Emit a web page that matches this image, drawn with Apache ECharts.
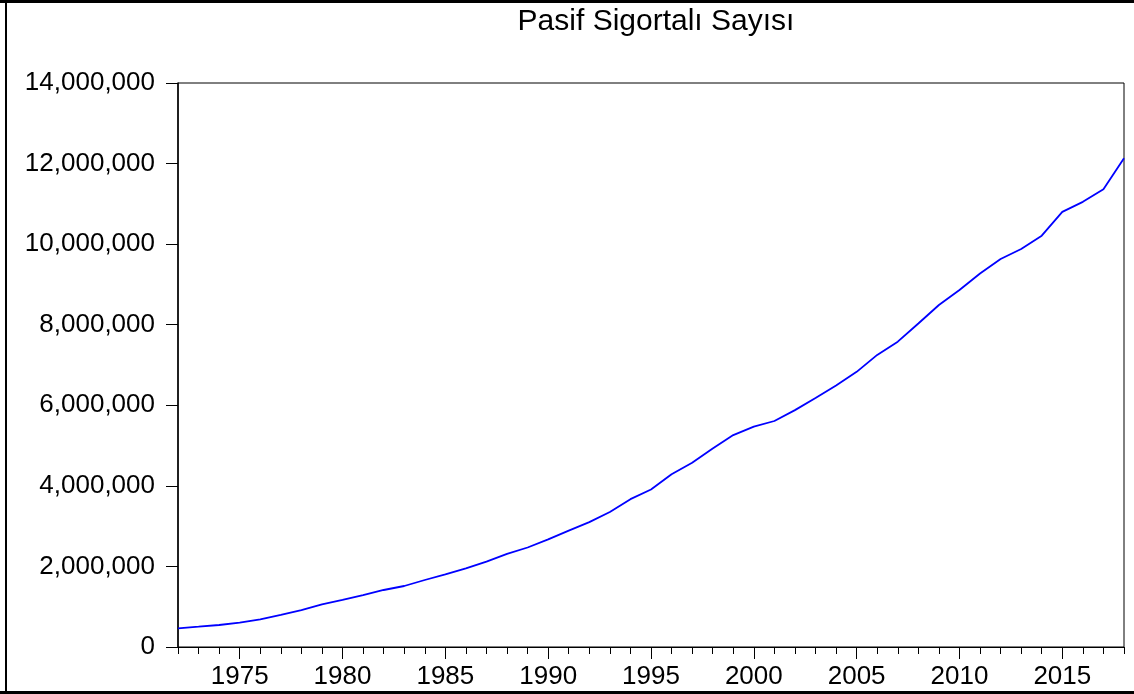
<!DOCTYPE html>
<html>
<head>
<meta charset="utf-8">
<title>Pasif Sigortalı Sayısı</title>
<script src="https://cdn.jsdelivr.net/npm/echarts@6/dist/echarts.min.js"></script>
<style>
  html, body { margin: 0; padding: 0; background: #fff; }
  #chart { width: 1134px; height: 694px; }
</style>
</head>
<body>
<div id="chart"></div>
<script>
// yıllar (kategori ekseni)
const years = [
  '1972', '1973', '1974', '1975', '1976', '1977', '1978', '1979', '1980', '1981',
  '1982', '1983', '1984', '1985', '1986', '1987', '1988', '1989', '1990', '1991',
  '1992', '1993', '1994', '1995', '1996', '1997', '1998', '1999', '2000', '2001',
  '2002', '2003', '2004', '2005', '2006', '2007', '2008', '2009', '2010', '2011',
  '2012', '2013', '2014', '2015', '2016', '2017', '2018'
];
// pasif sigortalı sayısı
const pasifSigortali = [
  464000, 504000, 546000, 603000, 687000, 800000, 918000, 1060000, 1167000, 1290000,
  1415000, 1514000, 1663000, 1800000, 1950000, 2120000, 2310000, 2470000, 2670000, 2890000,
  3100000, 3350000, 3670000, 3910000, 4290000, 4575000, 4930000, 5260000, 5470000, 5610000,
  5880000, 6180000, 6490000, 6830000, 7250000, 7580000, 8030000, 8490000, 8860000, 9270000,
  9630000, 9880000, 10210000, 10800000, 11050000, 11360000, 12130000
];
const yTicks = [0, 2000000, 4000000, 6000000, 8000000, 10000000, 12000000, 14000000];

const font = 'Liberation Sans, Arial, sans-serif';
const everyFifth = (idx, val) => Number(val) % 5 === 0;

const chart = echarts.init(document.getElementById('chart'));
const option = {
  backgroundColor: '#fff',
  animation: false,
  title: {
    text: 'Pasif Sigortalı Sayısı',
    left: 651,
    textAlign: 'center',
    top: 2,
    textStyle: { fontFamily: font, fontSize: 30, fontWeight: 'normal', color: '#000' }
  },
  graphic: [
    // dış çerçeve
    { type: 'line', shape: { x1: 0, y1: 1.5, x2: 1134, y2: 1.5 }, style: { stroke: '#000', lineWidth: 3 } },
    { type: 'line', shape: { x1: 6, y1: 0, x2: 6, y2: 694 }, style: { stroke: '#000', lineWidth: 2 } },
    { type: 'line', shape: { x1: 0, y1: 692.5, x2: 1134, y2: 692.5 }, style: { stroke: '#000', lineWidth: 3 } }
  ],
  grid: {
    left: 178,
    right: 10,
    top: 83,
    bottom: 47,
    show: true,
    borderColor: '#000',
    borderWidth: 1,
    containLabel: false
  },
  xAxis: [
    {
      type: 'category',
      data: years,
      boundaryGap: false,
      axisLine: { show: true, lineStyle: { color: '#000', width: 1 } },
      axisTick: { show: true, interval: 0, length: 7, lineStyle: { color: '#000' } },
      axisLabel: { show: false },
      splitLine: { show: false }
    },
    {
      type: 'category',
      data: years,
      boundaryGap: false,
      position: 'bottom',
      axisLine: { show: false },
      axisTick: { show: true, interval: everyFifth, length: 12, lineStyle: { color: '#000' } },
      axisLabel: {
        show: true,
        interval: everyFifth,
        margin: 17,
        color: '#000',
        fontFamily: font,
        fontSize: 26
      },
      splitLine: { show: false }
    }
  ],
  yAxis: {
    type: 'value',
    min: yTicks[0],
    max: yTicks[yTicks.length - 1],
    interval: yTicks[1] - yTicks[0],
    axisLine: { show: true, lineStyle: { color: '#000', width: 1.5 } },
    axisTick: { show: true, length: 12, lineStyle: { color: '#000' } },
    axisLabel: {
      margin: 23,
      color: '#000',
      fontFamily: font,
      fontSize: 26,
      formatter: (v) => v.toLocaleString('en-US')
    },
    splitLine: { show: false }
  },
  series: [
    {
      name: 'Pasif Sigortalı Sayısı',
      type: 'line',
      xAxisIndex: 0,
      data: pasifSigortali,
      showSymbol: false,
      smooth: false,
      lineStyle: { color: '#0000ff', width: 1.8 }
    }
  ]
};
chart.setOption(option);
</script>
</body>
</html>
